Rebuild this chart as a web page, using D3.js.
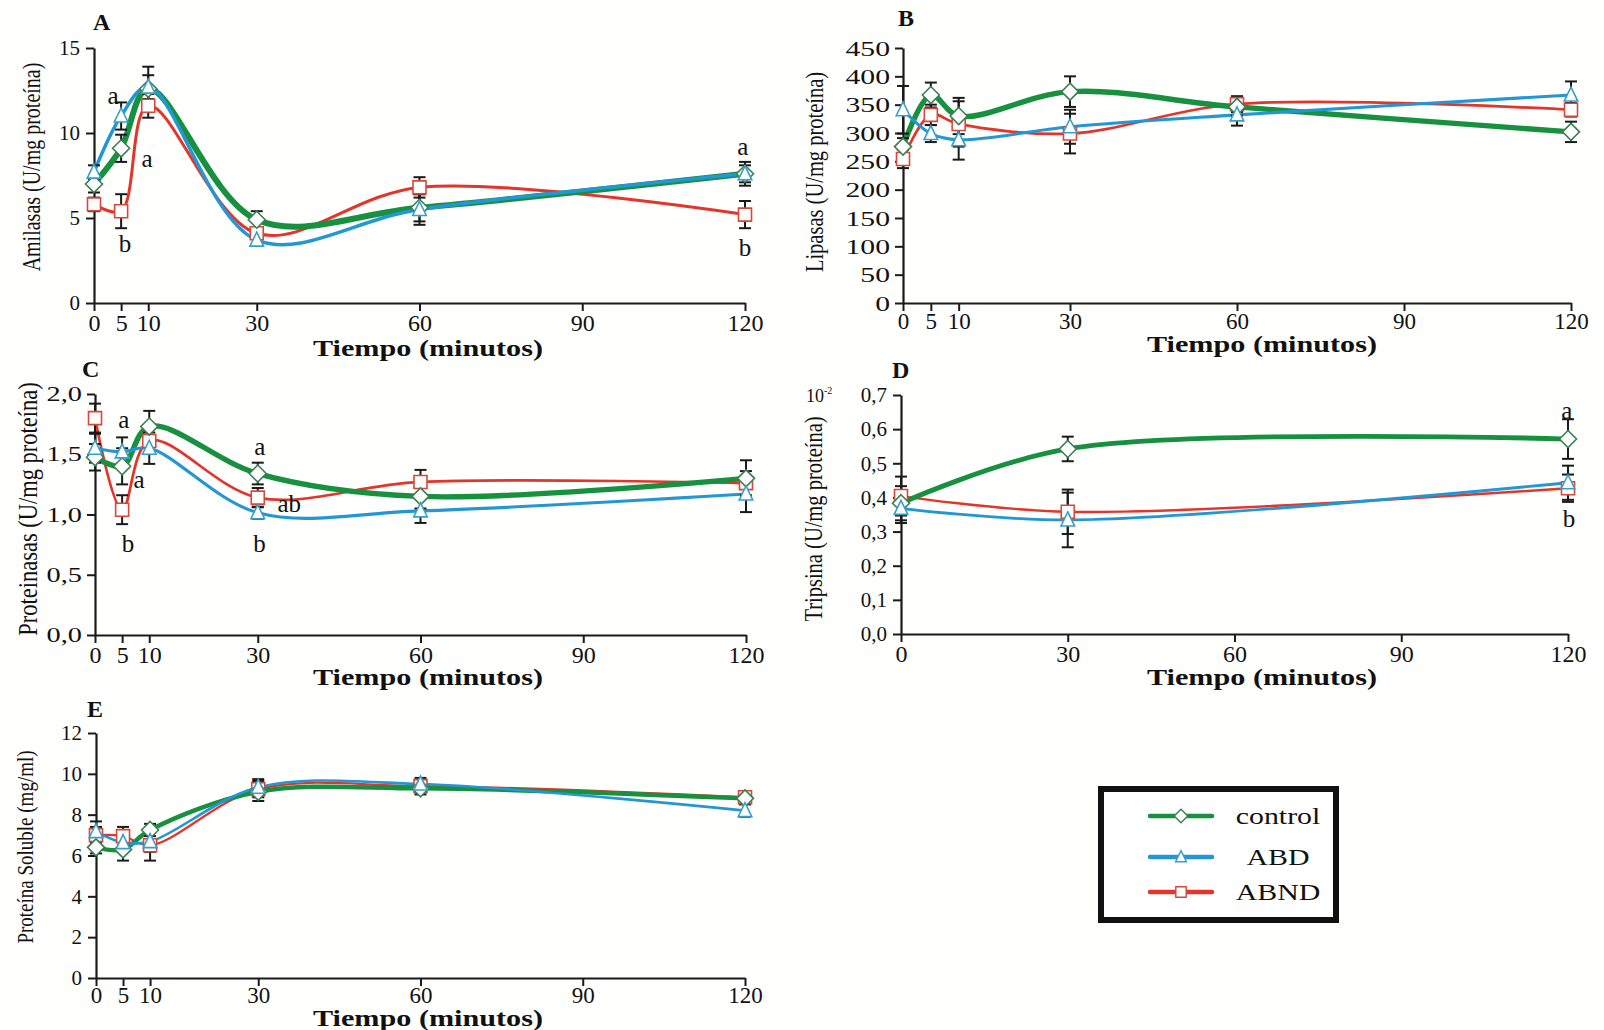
<!DOCTYPE html>
<html><head><meta charset="utf-8">
<script src="https://cdn.jsdelivr.net/npm/d3@7"></script>
<style>
body{margin:0;background:#fff}
svg{display:block}
text{font-family:"Liberation Serif","Times New Roman",serif;fill:#111}
</style>
</head><body>
<svg id="c" width="1604" height="1030"></svg>
<script>
// ---------------- DATA ----------------
const seriesNames = ["control", "ABD", "ABND"];
const times = [0, 5, 10, 30, 60, 120];
const timesTrip = [0, 30, 120];
const xTicks = [0, 5, 10, 30, 60, 90, 120];
const xTicksTrip = [0, 30, 60, 90, 120];

// A Amilasas
const amilasasControl = [7.0, 9.1, 12.6, 4.9, 5.6, 7.6];
const amilasasABD     = [7.7, 11.0, 12.7, 3.7, 5.5, 7.6];
const amilasasABND    = [5.8, 5.4, 11.6, 4.1, 6.8, 5.2];
const amilasasErrControl = [0.5, 0.8, 1.3, 0.5, 0.8, 0.7];
const amilasasErrABD     = [0.4, 0.8, 0.7, 0.3, 0.9, 0.5];
const amilasasErrABND    = [0.4, 1.0, 0.7, 0.7, 0.6, 0.8];
const amilasasTicks = [0, 5, 10, 15];
const amilasasLetters = [
  {t: 3.5, v: 12.2, s: "a"}, {t: 9.8, v: 8.5, s: "a"}, {t: 5.7, v: 3.5, s: "b"},
  {t: 119.6, v: 9.2, s: "a"}, {t: 120, v: 3.3, s: "b"}
];

// B Lipasas
const lipasasControl = [276, 367, 330, 373, 346, 302];
const lipasasABD     = [341, 299, 288, 311, 332, 367];
const lipasasABND    = [254, 332, 316, 299, 351, 341];
const lipasasErrControl = [15, 22, 32, 27, 15, 18];
const lipasasErrABD     = [42, 15, 35, 30, 19, 24];
const lipasasErrABND    = [16, 18, 40, 35, 14, 12];
const lipasasTicks = [0, 50, 100, 150, 200, 250, 300, 350, 400, 450];

// C Proteinasas
const proteinasasControl = [1.475, 1.40, 1.73, 1.34, 1.15, 1.30];
const proteinasasABD     = [1.55, 1.52, 1.55, 1.015, 1.03, 1.17];
const proteinasasABND    = [1.80, 1.04, 1.61, 1.14, 1.27, 1.26];
const proteinasasErrControl = [0.11, 0.15, 0.13, 0.09, 0.10, 0.15];
const proteinasasErrABD     = [0.12, 0.12, 0.13, 0.05, 0.10, 0.15];
const proteinasasErrABND    = [0.12, 0.12, 0.10, 0.08, 0.10, 0.10];
const proteinasasTicks = [0, 0.5, 1.0, 1.5, 2.0];
const proteinasasLetters = [
  {t: 5.3, v: 1.79, s: "a"}, {t: 8.1, v: 1.29, s: "a"}, {t: 6.1, v: 0.76, s: "b"},
  {t: 30.4, v: 1.57, s: "a"}, {t: 35.8, v: 1.09, s: "ab"}, {t: 30.3, v: 0.76, s: "b"}
];

// D Tripsina (x10^-2)
const tripsinaControl = [0.383, 0.542, 0.571];
const tripsinaABD     = [0.368, 0.334, 0.443];
const tripsinaABND    = [0.404, 0.358, 0.427];
const tripsinaErrControl = [0.05, 0.036, 0.058];
const tripsinaErrABD     = [0.043, 0.08, 0.05];
const tripsinaErrABND    = [0.057, 0.065, 0.04];
const tripsinaTicks = [0, 0.1, 0.2, 0.3, 0.4, 0.5, 0.6, 0.7];
const tripsinaLetters = [{t: 119.8, v: 0.656, s: "a"}, {t: 120.2, v: 0.34, s: "b"}];

// E Proteina soluble
const solubleControl = [6.4, 6.3, 7.25, 9.12, 9.29, 8.8];
const solubleABD     = [7.17, 6.63, 6.68, 9.34, 9.5, 8.2];
const solubleABND    = [7.0, 6.95, 6.5, 9.25, 9.4, 8.85];
const solubleErrControl = [0.3, 0.55, 0.3, 0.45, 0.3, 0.25];
const solubleErrABD     = [0.5, 0.4, 0.5, 0.4, 0.3, 0.3];
const solubleErrABND    = [0.4, 0.45, 0.75, 0.4, 0.3, 0.25];
const solubleTicks = [0, 2, 4, 6, 8, 10, 12];

// ---------------- STYLE ----------------
const lineColor = {control: "#17903f", ABD: "#2297d4", ABND: "#e3352b"};
const markStroke = {control: "#3b7f52", ABD: "#3a9fc8", ABND: "#d8473b"};
const lineWidth = {control: 6, ABD: 3.5, ABND: 3};
const drawOrder = ["ABND", "control", "ABD"];

const svg = d3.select("#c");
svg.append("rect").attr("width", 1604).attr("height", 1030).attr("fill", "#fffffd");

function markerPath(name) {
  if (name === "control") { const r = 8.5; return `M0,${-r}L${r},0L0,${r}L${-r},0Z`; }
  if (name === "ABD") { const r = 8; return `M0,${-r}L${r*0.85},${r*0.75}L${-r*0.85},${r*0.75}Z`; }
  const h = 6.5; return `M${-h},${-h}H${h}V${h}H${-h}Z`;
}

const commaFmt = d => d3.format(".1f")(d).replace(".", ",");

function panel(cfg) {
  const x = d3.scaleLinear().domain([0, 120]).range(cfg.xRange);
  const y = d3.scaleLinear().domain(cfg.yDomain).range(cfg.yRange);
  const g = svg.append("g");

  const gx = g.append("g").attr("transform", `translate(0,${cfg.yRange[0]})`)
    .call(d3.axisBottom(x).tickValues(cfg.xTicks).tickSize(8).tickSizeOuter(0).tickPadding(cfg.xPad || 3));
  const gy = g.append("g").attr("transform", `translate(${cfg.xRange[0]},0)`)
    .call(d3.axisLeft(y).tickValues(cfg.yTicks).tickSize(8).tickSizeOuter(0).tickPadding(6)
      .tickFormat(cfg.yFmt || (d => d)));
  [gx, gy].forEach(a => {
    a.attr("font-family", null);
    a.select(".domain").attr("stroke", "#1a1a1a").attr("stroke-width", 2.2);
    a.selectAll(".tick line").attr("stroke", "#1a1a1a").attr("stroke-width", 2);
    a.selectAll("text").attr("fill", "#111");
  });
  gx.selectAll("text").attr("font-size", cfg.xTickSize || 24);
  gy.selectAll("text").attr("font-size", cfg.yTickSize || 21);
  if (cfg.yTickStretch) {
    gy.selectAll("text").attr("x", 0).attr("transform", `translate(-13,0) scale(${cfg.yTickStretch},1)`);
  }

  const line = d3.line().x(d => x(d.t)).y(d => y(d.v)).curve(d3.curveCatmullRom.alpha(0.5));

  const series = seriesNames.map((n, i) => ({
    name: n,
    pts: cfg.ts.map((t, j) => ({t, v: cfg.values[i][j], e: cfg.errs[i][j]}))
  }));
  const byName = Object.fromEntries(series.map(s => [s.name, s]));

  drawOrder.forEach(n => {
    g.append("path").datum(byName[n].pts).attr("d", line)
      .attr("fill", "none").attr("stroke", lineColor[n])
      .attr("stroke-width", lineWidth[n] * (cfg.lw || 1))
      .attr("stroke-linecap", "round");
  });

  series.forEach(s => {
    const eb = g.append("g").attr("stroke", "#1a1a1a").attr("stroke-width", 2);
    s.pts.forEach(p => {
      const xx = x(p.t), y1 = y(p.v + p.e), y2 = y(p.v - p.e);
      eb.append("line").attr("x1", xx).attr("x2", xx).attr("y1", y1).attr("y2", y2);
      eb.append("line").attr("x1", xx - 6).attr("x2", xx + 6).attr("y1", y1).attr("y2", y1);
      eb.append("line").attr("x1", xx - 6).attr("x2", xx + 6).attr("y1", y2).attr("y2", y2);
    });
  });

  drawOrder.forEach(n => {
    g.selectAll(null).data(byName[n].pts).join("path")
      .attr("d", markerPath(n))
      .attr("transform", d => `translate(${x(d.t)},${y(d.v)})`)
      .attr("fill", "#ffffff").attr("stroke", markStroke[n]).attr("stroke-width", 1.6);
  });

  (cfg.letters || []).forEach(l => {
    g.append("text").attr("x", x(l.t)).attr("y", y(l.v)).attr("dy", "0.35em")
      .attr("text-anchor", "middle").attr("font-size", 25).text(l.s);
  });

  g.append("text").attr("x", cfg.label[1]).attr("y", cfg.label[2])
    .attr("font-size", 24).attr("font-weight", "bold").text(cfg.label[0]);

  g.append("text")
    .attr("transform", `translate(${cfg.ylab[1]},${cfg.ylab[2]}) scale(1.25,1) rotate(-90)`)
    .attr("text-anchor", "middle").attr("font-size", cfg.ylab[3]).text(cfg.ylab[0]);

  g.append("text").attr("x", cfg.xlab[0]).attr("y", cfg.xlab[1])
    .attr("text-anchor", "middle").attr("font-size", 23).attr("font-weight", "bold")
    .attr("textLength", 230).attr("lengthAdjust", "spacingAndGlyphs")
    .text("Tiempo (minutos)");
  return g;
}

panel({
  xRange: [94, 745], yRange: [303, 48], yDomain: [0, 15], yTicks: amilasasTicks, xTicks: xTicks,
  ts: times, values: [amilasasControl, amilasasABD, amilasasABND],
  errs: [amilasasErrControl, amilasasErrABD, amilasasErrABND], letters: amilasasLetters,
  label: ["A", 93, 30], ylab: ["Amilasas (U/mg proteína)", 40, 167, 20], xlab: [428, 356]
});
panel({
  xRange: [903, 1571], yRange: [303, 48], yDomain: [0, 450], yTicks: lipasasTicks, xTicks: xTicks,
  ts: times, values: [lipasasControl, lipasasABD, lipasasABND],
  errs: [lipasasErrControl, lipasasErrABD, lipasasErrABND], yTickSize: 22, yTickStretch: 1.35,
  xTickSize: 23, xPad: 2,
  label: ["B", 898, 26], ylab: ["Lipasas (U/mg proteína)", 823, 172, 20.5], xlab: [1262, 352], lw: 0.9
});
panel({
  xRange: [95, 746], yRange: [635, 394], yDomain: [0, 2], yTicks: proteinasasTicks, xTicks: xTicks,
  ts: times, values: [proteinasasControl, proteinasasABD, proteinasasABND],
  errs: [proteinasasErrControl, proteinasasErrABD, proteinasasErrABND], yFmt: commaFmt,
  yTickSize: 21, yTickStretch: 1.35, letters: proteinasasLetters,
  label: ["C", 82, 377], ylab: ["Proteinasas (U/mg proteína)", 37, 509, 22.5], xlab: [428, 685], lw: 0.9
});
const gD = panel({
  xRange: [901, 1568], yRange: [634, 395], yDomain: [0, 0.7], yTicks: tripsinaTicks, xTicks: xTicksTrip,
  ts: timesTrip, values: [tripsinaControl, tripsinaABD, tripsinaABND],
  errs: [tripsinaErrControl, tripsinaErrABD, tripsinaErrABND], yFmt: commaFmt, yTickSize: 21,
  letters: tripsinaLetters,
  label: ["D", 892, 378], ylab: ["Tripsina (U/mg proteína)", 822, 519, 20.5], xlab: [1262, 685], lw: 0.8
});
const tenText = gD.append("text").attr("x", 806).attr("y", 402).attr("font-size", 18);
tenText.append("tspan").text("10");
tenText.append("tspan").attr("font-size", 10).attr("dy", -8).text("-2");
panel({
  xRange: [96, 745], yRange: [978, 733], yDomain: [0, 12], yTicks: solubleTicks, xTicks: xTicks,
  ts: times, values: [solubleControl, solubleABD, solubleABND],
  errs: [solubleErrControl, solubleErrABD, solubleErrABND], yTickSize: 21,
  xTickSize: 23, xPad: 1,
  label: ["E", 87, 717], ylab: ["Proteína Soluble (mg/ml)", 33, 847, 19], xlab: [428, 1026], lw: 0.75
});

// ---------------- LEGEND ----------------
const lg = svg.append("g");
lg.append("rect").attr("x", 1101).attr("y", 789).attr("width", 235).attr("height", 131)
  .attr("fill", "#fff").attr("stroke", "#111").attr("stroke-width", 6);
const legendY = [816, 857, 892];
seriesNames.forEach((n, i) => {
  const yy = legendY[i];
  lg.append("line").attr("x1", 1150).attr("x2", 1212).attr("y1", yy).attr("y2", yy)
    .attr("stroke", lineColor[n]).attr("stroke-width", 4.5).attr("stroke-linecap", "round");
  lg.append("path").attr("d", markerPath(n)).attr("transform", `translate(1181,${yy}) scale(0.8)`)
    .attr("fill", "#fff").attr("stroke", markStroke[n]).attr("stroke-width", 1.8);
  lg.append("text").attr("transform", `translate(1278,${yy + 8}) scale(1.3,1)`)
    .attr("text-anchor", "middle").attr("font-size", 23).text(n);
});
</script>
</body></html>
